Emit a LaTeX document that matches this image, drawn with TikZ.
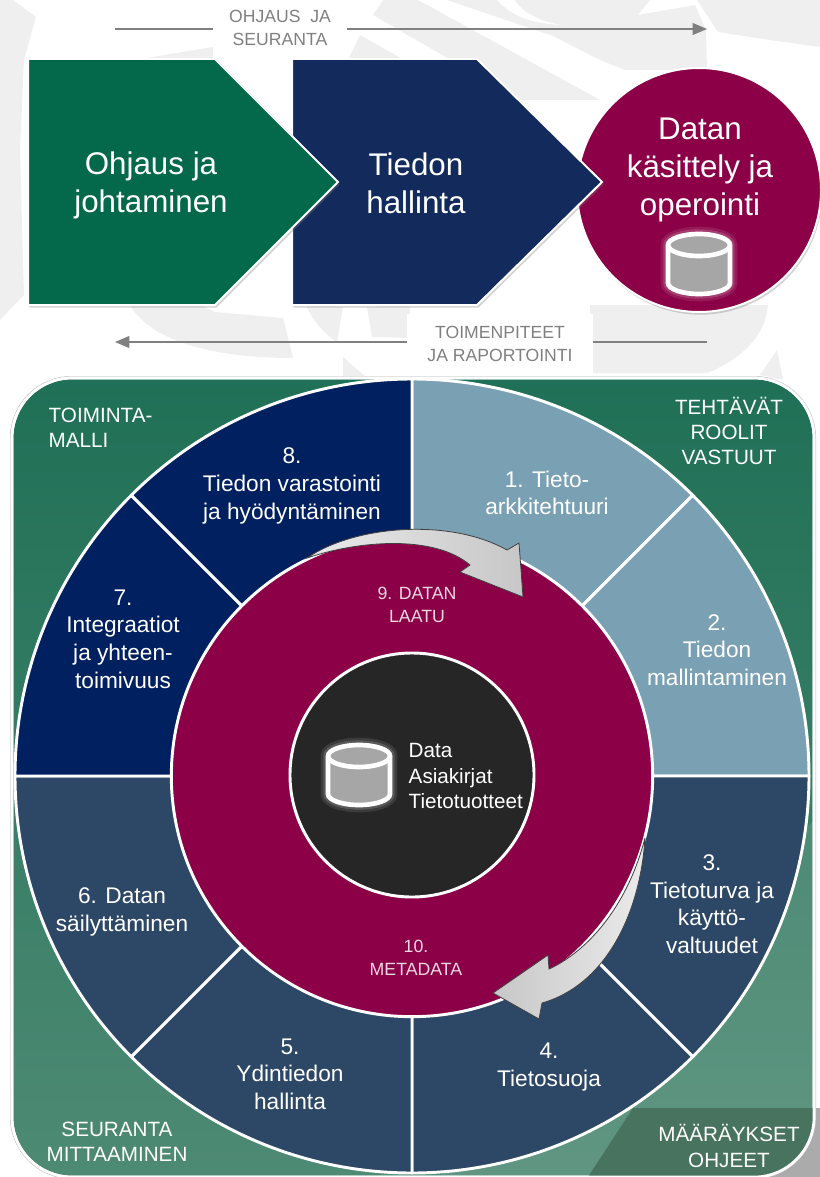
\documentclass[tikz,border=0pt]{standalone}
\usepackage{fontspec}
\setmainfont{Liberation Sans}
\usetikzlibrary{arrows,positioning,shapes,shadows}

\definecolor{wmgray}{HTML}{EFEFEF}
\definecolor{flowgray}{HTML}{808080}
\definecolor{ohjgreen}{HTML}{03694A}
\definecolor{hallnavy}{HTML}{132A5C}
\definecolor{datamag}{HTML}{8B0046}
\definecolor{secnavy}{HTML}{00205F}
\definecolor{secblue}{HTML}{7AA0B4}
\definecolor{secslate}{HTML}{2D4766}
\definecolor{hubblack}{HTML}{262626}
\definecolor{paneltop}{HTML}{1F7056}
\definecolor{panelmid}{HTML}{3A8068}
\definecolor{panelend}{HTML}{4E8A74}
\definecolor{paneldark}{HTML}{47735F}

\tikzset{dbicon/.pic={
\draw[white,opacity=.1,line width=11pt] (-31,19) arc (180:0:31 and 11) -- (31,-19) arc (360:180:31 and 11) -- cycle;
\draw[white,opacity=.15,line width=7pt] (-31,19) arc (180:0:31 and 11) -- (31,-19) arc (360:180:31 and 11) -- cycle;
\draw[white,fill=black!35,line width=3.5pt] (-31,19) arc (180:0:31 and 11) -- (31,-19) arc (360:180:31 and 11) -- cycle;
\draw[white,line width=3.5pt] (-31,19) arc (180:360:31 and 11);
}}

\begin{document}
\begin{tikzpicture}[x=0.75pt,y=0.75pt,>=triangle 45]
\tikzstyle{chevron}=[draw=white,line width=1.5pt,line join=miter,drop shadow={shadow xshift=1pt,shadow yshift=-2pt,opacity=.35}]
\tikzstyle{bigtext}=[text=white,align=center,font=\fontsize{23.5}{28.5}\selectfont]
\tikzstyle{flowtext}=[fill=white,text=flowgray,align=center,inner sep=0pt,font=\fontsize{13.2}{17.5}\selectfont]
\tikzstyle{flowline}=[->,draw=flowgray,line width=1.5pt]
\tikzstyle{sector}=[draw=white,line width=2.2pt,line join=round]
\tikzstyle{sectext}=[text=white,align=center,font=\fontsize{17}{20.7}\selectfont]
\tikzstyle{cornertext}=[text=white,align=center,font=\fontsize{15.5}{19}\selectfont]
\tikzstyle{ringtext}=[text=white!85!datamag,align=center,font=\fontsize{13.3}{17}\selectfont]
\tikzstyle{turnarrow}=[draw=black!75,line width=.6pt,line join=miter]
\tikzstyle{watermark}=[fill=wmgray]

\useasboundingbox (0,-1177) rectangle (820,0);

% watermark behind everything
\fill[watermark] (0,0) -- (13,0) -- (36,-17) -- (24,-60) -- (20,-150) -- (24,-295) -- (0,-320) -- cycle;
\fill[watermark] (140,-59) -- (213,-47) -- (213,-59) -- cycle;
\fill[watermark] (373,-15) -- (383,0) -- (418,0) -- (600,-100) -- (520,-100) -- cycle;
\fill[watermark] (360,-35) -- (440,-80) -- (347,-62) -- cycle;
\fill[watermark] (447,0) -- (497,0) .. controls (510,-15) and (530,-24) .. (563,-25) -- (553,-36) -- cycle;
\fill[watermark] (515,0) -- (650,0) -- (638,-15) -- (695,-5) -- (706,-30) -- (707,-70) -- (625,-70) -- (600,-60) -- (553,-36) -- (563,-25) .. controls (540,-22) and (522,-12) .. cycle;
\fill[watermark] (697,0) -- (820,0) -- (820,-47) -- (770,-40) -- (718,-32) -- cycle;
\fill[watermark] (130,-305) .. controls (150,-340) and (210,-358) .. (293,-358) -- (283,-318) -- (215,-312) -- (200,-305) -- cycle;
\fill[watermark] (305,-303) .. controls (312,-320) and (325,-335) .. (337,-342) -- (343,-307) -- cycle;
\fill[watermark] (367,-307) -- (372,-337) -- (410,-338) -- (410,-305) -- cycle;
\fill[watermark] (343,-357) -- (367,-378) -- (343,-378) -- cycle;
\fill[watermark] (590,-305) -- (768,-305) .. controls (765,-340) and (735,-362) .. (707,-373) -- (590,-373) -- cycle;
\fill[watermark] (777,-350) -- (783,-380) -- (760,-375) -- cycle;

% flow arrows
\coordinate (ctrlstart) at (115,-29);
\coordinate (ctrlend) at (707,-29);
\coordinate (actstart) at (707,-342);
\coordinate (actend) at (115,-342);
\path (ctrlstart) edge[flowline] (ctrlend);
\path (actstart) edge[flowline] (actend);
\node[flowtext,minimum width=101pt,minimum height=44pt] (ctrllabel) at (280,-28) {OHJAUS\ \ JA\\SEURANTA};
\node[flowtext,minimum width=139pt,minimum height=45pt] (actlabel) at (500,-344) {TOIMENPITEET\\JA RAPORTOINTI};

% top row
\node[circle,fill=datamag,draw=white,line width=1.5pt,minimum size=183pt,inner sep=0pt,drop shadow={shadow xshift=1pt,shadow yshift=-2pt,opacity=.35}] (opercircle) at (699,-190) {};
\draw[chevron,fill=hallnavy] (292,-59) -- (477,-59) -- (602,-182) -- (477,-305) -- (292,-305) -- cycle;
\draw[chevron,fill=ohjgreen] (28,-59) -- (215,-59) -- (338,-182) -- (215,-305) -- (28,-305) -- cycle;
\node[bigtext] (ohjaus) at (151,-185) {Ohjaus ja\\johtaminen};
\node[bigtext] (hallinta) at (416,-183) {Tiedon\\hallinta};
\node[bigtext] (operointi) at (700,-170) {Datan\\käsittely ja\\operointi};
\pic (topdb) at (699,-264) {dbicon};

% big panel
\fill[black!33] (700,-1108) rectangle (820,-1177);
\draw[draw=black!25,line width=3pt,rounded corners=45pt] (12,-378) rectangle (814,-1177);
\draw[draw=white,line width=2pt,top color=paneltop,middle color=panelmid,bottom color=panelend,rounded corners=45pt] (12,-378) rectangle (814,-1177);
\begin{scope}
\clip[rounded corners=45pt] (12,-378) rectangle (814,-1177);
\fill[white,opacity=.1] (814,-820) -- (814,-1177) -- (440,-1177) -- cycle;
\fill[paneldark] (633,-1108) -- (814,-1108) -- (814,-1177) -- (588,-1177) -- cycle;
\end{scope}
\draw[draw=white,line width=2pt,rounded corners=45pt] (12,-378) rectangle (814,-1177);

% wheel
\coordinate (hub) at (412,-776);
\draw[sector,fill=secblue]  (hub) -- +(45:397) arc (45:90:397) -- cycle;
\draw[sector,fill=secblue]  (hub) -- +(0:397) arc (0:45:397) -- cycle;
\draw[sector,fill=secslate] (hub) -- +(-45:397) arc (-45:0:397) -- cycle;
\draw[sector,fill=secslate] (hub) -- +(-90:397) arc (-90:-45:397) -- cycle;
\draw[sector,fill=secslate] (hub) -- +(-135:397) arc (-135:-90:397) -- cycle;
\draw[sector,fill=secslate] (hub) -- +(180:397) arc (180:225:397) -- cycle;
\draw[sector,fill=secnavy]  (hub) -- +(135:397) arc (135:180:397) -- cycle;
\draw[sector,fill=secnavy]  (hub) -- +(90:397) arc (90:135:397) -- cycle;
\node[circle,fill=datamag,draw=white,line width=2.2pt,minimum size=361pt,inner sep=0pt] (ringdisc) at (hub) {};
\node[circle,fill=hubblack,draw=white,line width=2.2pt,minimum size=183pt,inner sep=0pt] (hubdisc) at (412,-775) {};

% turning arrows
\draw[turnarrow,left color=white!92!black,right color=black!22] (307,-558) .. controls (355,-525) and (450,-518) .. (507,-550) -- (519,-543) -- (523,-597) -- (460,-572) -- (470,-565) .. controls (435,-535) and (360,-540) .. cycle;
\draw[turnarrow,left color=black!22,right color=white!92!black] (645,-838) .. controls (640,-915) and (605,-985) .. (542,-1003) -- (539,-1019) -- (493,-993) -- (548,-955) -- (549,-969) .. controls (580,-955) and (625,-915) .. cycle;

% labels
\node[sectext] (tieto) at (547,-493) {1. Tieto-\\arkkitehtuuri};
\node[sectext] (mallin) at (717,-650) {2.\\Tiedon\\mallintaminen};
\node[sectext] (turva) at (712,-904) {3.\\Tietoturva ja\\käyttö-\\valtuudet};
\node[sectext] (suoja) at (549,-1067) {4.\\Tietosuoja};
\node[sectext] (ydin) at (290,-1074) {5.\\Ydintiedon\\hallinta};
\node[sectext] (sailytys) at (122,-912) {6. Datan\\säilyttäminen};
\node[sectext] (integ) at (123,-639) {7.\\Integraatiot\\ja yhteen-\\toimivuus};
\node[sectext] (varasto) at (292,-486) {8.\\Tiedon varastointi\\ja hyödyntäminen};
\node[ringtext] (laatu) at (417,-605) {9. DATAN\\LAATU};
\node[ringtext] (metadata) at (416,-958) {10.\\METADATA};
\node[cornertext,align=left,anchor=west] (malli) at (44,-428) {TOIMINTA-\\MALLI};
\node[cornertext] (roolit) at (729,-431) {TEHTÄVÄT\\ROOLIT\\VASTUUT};
\node[cornertext] (mittaus) at (117,-1142) {SEURANTA\\MITTAAMINEN};
\node[cornertext] (ohjeet) at (729,-1146) {MÄÄRÄYKSET\\OHJEET};
\node[cornertext,align=left,anchor=west] (hubtext) at (404,-776) {Data\\Asiakirjat\\Tietotuotteet};
\pic (hubdb) at (359,-775) {dbicon};
\end{tikzpicture}
\end{document}
